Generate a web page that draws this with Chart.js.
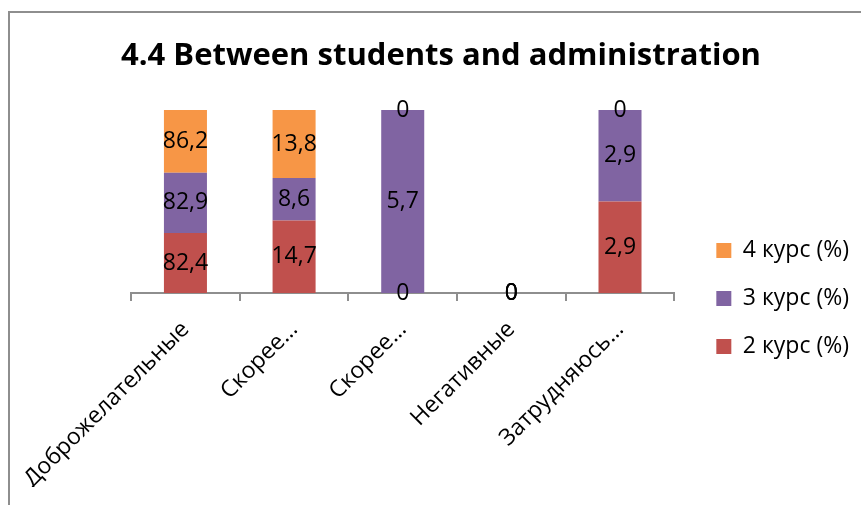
<!DOCTYPE html>
<html><head><meta charset="utf-8">
<script src="https://cdn.jsdelivr.net/npm/chart.js@4"></script>
<style>html,body{margin:0;padding:0;background:#fff}#wrap{width:861px;height:505px;position:relative}</style>
</head><body><div id="wrap"><canvas id="c" width="861" height="505"></canvas></div>
<script>
const titleText = '4.4 Between students and administration';
const categories = ['Доброжелательные', 'Скорее…', 'Скорее…', 'Негативные', 'Затрудняюсь…'];
const seriesNames = ['2 курс (%)', '3 курс (%)', '4 курс (%)'];
const course2 = [82.4, 14.7, 0, 0, 2.9];
const course3 = [82.9, 8.6, 5.7, 0, 2.9];
const course4 = [86.2, 13.8, 0, 0, 0];
const colors = ['#C0504D', '#8064A2', '#F79646'];

const raw = [course2, course3, course4];
const totals = categories.map((_, i) => raw.reduce((s, a) => s + a[i], 0));
const pct = arr => arr.map((v, i) => totals[i] ? v / totals[i] * 100 : 0);

const FONT = 'Open Sans';

const frame = {
  id: 'frame',
  beforeDraw(chart) {
    const c = chart.ctx;
    c.save();
    c.fillStyle = '#fff';
    c.fillRect(0, 0, chart.width, chart.height);
    c.strokeStyle = '#8e8e8e';
    c.lineWidth = 2;
    c.beginPath();
    c.moveTo(9, chart.height);
    c.lineTo(9, 12);
    c.lineTo(chart.width, 12);
    c.stroke();
    // chart title
    c.fillStyle = '#000';
    c.font = 'bold 31px "' + FONT + '"';
    c.textAlign = 'center';
    c.textBaseline = 'middle';
    c.fillText(titleText, 441, 56.6);
    c.restore();
  }
};

const valueLabels = {
  id: 'valueLabels',
  afterDatasetsDraw(chart) {
    const c = chart.ctx;
    c.save();
    c.font = '23px "' + FONT + '"';
    c.fillStyle = '#000';
    c.textAlign = 'center';
    c.textBaseline = 'middle';
    chart.data.datasets.forEach((ds, di) => {
      const meta = chart.getDatasetMeta(di);
      meta.data.forEach((el, i) => {
        const v = raw[di][i];
        const y = (el.y + el.base) / 2;
        c.fillText(String(v).replace('.', ','), el.x, y);
      });
    });
    c.restore();
  }
};

new Chart(document.getElementById('c'), {
  type: 'bar',
  data: {
    labels: categories,
    datasets: raw.map((arr, k) => ({
      label: seriesNames[k],
      data: pct(arr),
      backgroundColor: colors[k],
      borderWidth: 0,
      categoryPercentage: 1,
      barPercentage: 0.396
    }))
  },
  plugins: [frame, valueLabels],
  options: {
    responsive: false,
    animation: false,
    devicePixelRatio: 1,
    layout: { padding: { left: 131, right: 2, top: 110, bottom: 18 } },
    plugins: {
      title: { display: false },
      legend: {
        position: 'right', reverse: true,
        labels: {
          boxWidth: 15, boxHeight: 15, padding: 25, color: '#000',
          font: { family: FONT, size: 23 }
        }
      },
      tooltip: { enabled: false }
    },
    scales: {
      x: {
        stacked: true,
        border: { display: true, color: '#8e8e8e', width: 2 },
        grid: { display: true, drawOnChartArea: false, drawTicks: true, tickLength: 8, color: '#8e8e8e', lineWidth: 2, offset: true },
        ticks: { autoSkip: false, maxRotation: 45, minRotation: 45, color: '#000', padding: 15, font: { family: FONT, size: 23 } },
        afterFit(s) { s.height = 194; }
      },
      y: {
        display: false, stacked: true, min: 0, max: 100
      },
      y2: {
        type: 'linear', position: 'right', min: 0, max: 1,
        border: { display: false }, grid: { display: false },
        ticks: { display: false },
        afterFit(s) { s.width = 17; }
      }
    }
  }
});
</script></body></html>
